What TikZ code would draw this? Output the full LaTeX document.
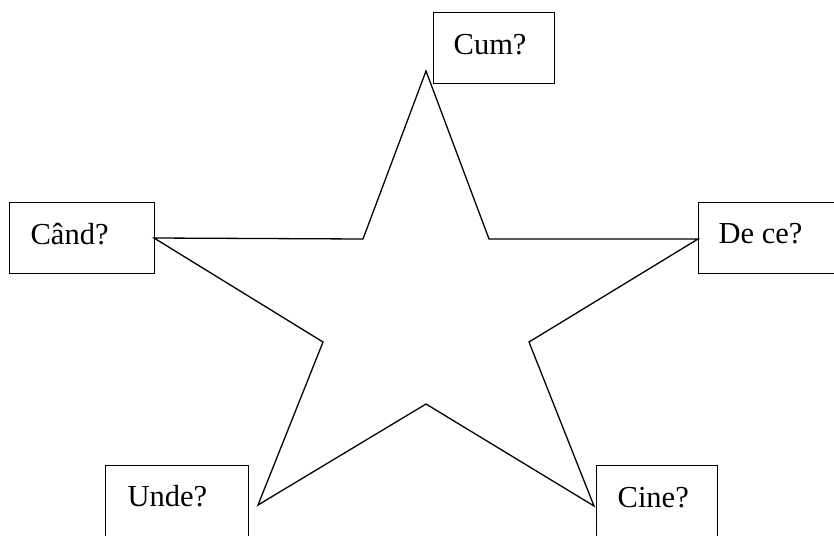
\documentclass[tikz,border=0pt]{standalone}
\usepackage{fontspec}
\setmainfont{Liberation Serif}
\begin{document}
\begin{tikzpicture}[x=1pt,y=-1pt,line width=1.3pt,
  qbox/.style={draw,rectangle,anchor=north west,inner sep=0pt},
  qtext/.style={anchor=base west,inner sep=0pt,font=\fontsize{30.5}{36}\selectfont}]
\useasboundingbox (0,0) rectangle (834,535);
\clip (0,0) rectangle (834,535);
% boxes
\node[qbox,minimum width=121pt,minimum height=71pt] (cum) at (433,12) {};
\node[qbox,minimum width=145pt,minimum height=71pt] (cand) at (9,202) {};
\node[qbox,minimum width=160pt,minimum height=71pt] (dece) at (698,202) {};
\node[qbox,minimum width=143pt,minimum height=90pt] (unde) at (105,465) {};
\node[qbox,minimum width=121pt,minimum height=90pt] (cine) at (596,465) {};
% texts
\node[qtext] (tcum) at (453,54) {Cum?};
\node[qtext] (tcand) at (30,244) {Când?};
\node[qtext] (tdece) at (718,243) {De ce?};
\node[qtext] (tunde) at (127,506) {Unde?};
\node[qtext] (tcine) at (617,507) {Cine?};
% star
\draw[line join=miter] (426,71) -- (489,239) -- (698,239) -- (529,342) -- (594,506)
  -- (426,404) -- (258,505) -- (323,342) -- (154,238) -- (363,239) -- cycle;
\end{tikzpicture}
\end{document}
